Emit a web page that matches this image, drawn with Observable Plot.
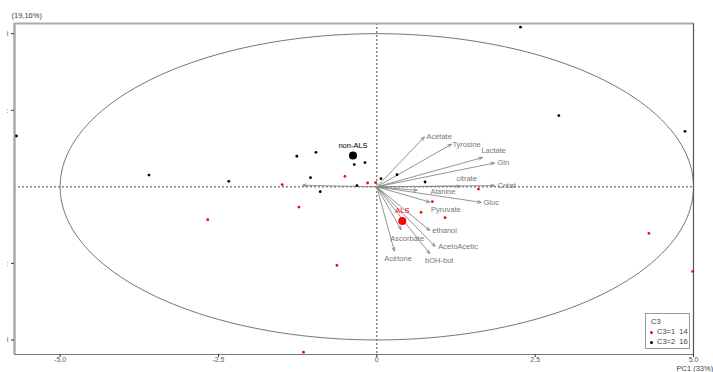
<!DOCTYPE html>
<html>
<head>
<meta charset="utf-8">
<script src="https://cdn.jsdelivr.net/npm/d3@7"></script>
<script src="https://cdn.jsdelivr.net/npm/@observablehq/plot@0.6"></script>
<style>
  body { margin: 0; background: #fff; }
  #wrap { position: relative; width: 713px; height: 372px; font-family: "Liberation Sans", Arial, sans-serif; }
  #legend { position: absolute; left: 645px; top: 313px; width: 43px; height: 34px; border: 1.5px solid #999; background: #fff; font-size: 7.5px; color: #444; line-height: 10px; }
  #legend .t { position: absolute; left: 5px; top: 3px; }
  #legend .r { position: absolute; left: 4px; white-space: pre; }
  #legend .d { display: inline-block; width: 3px; height: 3px; border-radius: 50%; margin-right: 4px; vertical-align: middle; }
</style>
</head>
<body>
<div id="wrap"></div>
<script>
// ---- data ----
const blackX = [-1.262, -0.961, -0.356, -0.187, -1.047, -0.893, -0.313, 0.066, 0.319, 0.762, -5.689, -3.597, -2.337, 2.269, 2.874, 4.866];
const blackY = [0.399, 0.451, 0.290, 0.316, 0.120, -0.063, 0.016, 0.107, 0.159, 0.063, 0.664, 0.154, 0.072, 2.085, 0.931, 0.725];
const redX = [-0.503, -1.494, -0.145, -0.019, -1.230, -0.629, 0.877, 0.699, 1.078, 1.605, -2.669, -1.157, 4.297, 4.988];
const redY = [0.137, 0.029, 0.050, 0.055, -0.264, -1.026, -0.193, -0.333, -0.403, -0.029, -0.429, -2.159, -0.608, -1.105];
const groupNames = ["non-ALS", "ALS"];
const groupX = [-0.376, 0.403];
const groupY = [0.408, -0.447];
const varNames = ["Acétate", "Tyrosine", "Lactate", "Gln", "citrate", "Créat", "Alanine", "Gluc", "Pyruvate", "ethanol", "AcetoAcetic", "bOH-but", "Ascorbate", "Acétone", ""];
const varX = [0.751, 1.178, 1.668, 1.858, 1.320, 1.858, 0.636, 1.647, 0.835, 0.835, 0.920, 0.835, 0.383, 0.277, -1.170];
const varY = [0.651, 0.556, 0.382, 0.311, 0.007, 0.016, -0.046, -0.203, -0.199, -0.569, -0.778, -0.873, -0.559, -0.839, 0.020];
const labelX = [0.783, 1.194, 1.652, 1.905, 1.257, 1.905, 0.846, 1.684, 0.857, 0.877, 0.972, 0.762, 0.213, 0.119, -1.170];
const labelY = [0.660, 0.556, 0.468, 0.311, 0.111, 0.020, -0.068, -0.203, -0.298, -0.569, -0.787, -0.961, -0.682, -0.939, 0.020];
const xTicks = [-5, -2.5, 0, 2.5, 5];
const xTickLabels = ["-5.0", "-2.5", "0", "2.5", "5.0"];
const yTicks = [2, 1, -1, -2];
const yTickLabels = ["i", ":", ":", "i"];
const ellipseRadii = [5, 2];
const xDomain = [-5.72, 5.0];
const yDomain = [-2.19, 2.133];
const title = "(19,16%)";
const xLabel = "PC1 (33%)";

// ---- derived tables ----
const black = blackX.map((x, i) => ({x, y: blackY[i]}));
const red = redX.map((x, i) => ({x, y: redY[i]}));
const vars = varNames.map((n, i) => ({n, x: varX[i], y: varY[i], lx: labelX[i], ly: labelY[i]}));
const ellipse = d3.range(0, 361, 2).map(a => ({x: ellipseRadii[0] * Math.cos(a * Math.PI / 180), y: ellipseRadii[1] * Math.sin(a * Math.PI / 180)}));

const chart = Plot.plot({
  width: 713, height: 372,
  marginLeft: 14, marginRight: 20, marginTop: 23, marginBottom: 18,
  x: {domain: xDomain},
  y: {domain: yDomain},
  style: {fontFamily: "Liberation Sans, Arial, sans-serif", fontSize: "7.5px", color: "#555", background: "#fff"},
  marks: [
    Plot.ruleY([0], {stroke: "#333", strokeWidth: 0.9, strokeDasharray: "2,2"}),
    Plot.ruleX([0], {stroke: "#333", strokeWidth: 0.9, strokeDasharray: "2,2"}),
    Plot.line(ellipse, {x: "x", y: "y", stroke: "#666", strokeWidth: 0.9, curve: "catmull-rom"}),
    Plot.ruleX([xDomain[0]], {stroke: "#aaa", strokeWidth: 2.5}),
    Plot.ruleY([yDomain[1]], {stroke: "#aaa", strokeWidth: 2}),
    Plot.ruleX([xDomain[1]], {stroke: "#555", strokeWidth: 1.2}),
    Plot.ruleY([yDomain[0]], {stroke: "#777", strokeWidth: 1.2}),
    Plot.axisX({ticks: xTicks, tickFormat: (d, i) => xTickLabels[i], tickSize: 3, tickPadding: 0, fontSize: 7, label: null, stroke: "#333"}),
    Plot.axisY({ticks: yTicks, tickFormat: (d, i) => yTickLabels[i], tickSize: 3, tickPadding: 3, label: null, stroke: "#333"}),
    Plot.arrow(vars, {x1: () => 0, y1: () => 0, x2: "x", y2: "y", stroke: "#888", strokeWidth: 0.9, headLength: 6, headAngle: 45}),
    Plot.text(vars, {x: "lx", y: "ly", text: "n", textAnchor: "start", fill: "#777", fontSize: 7.5}),
    Plot.dot(black, {x: "x", y: "y", r: 1.4, fill: "#000"}),
    Plot.dot(red, {x: "x", y: "y", r: 1.4, fill: "#f00"}),
    Plot.dot([0, 1], {x: i => groupX[i], y: i => groupY[i], r: 4, fill: i => (i === 0 ? "#000" : "#f00")}),
    Plot.text([0, 1], {x: i => groupX[i], y: i => groupY[i], text: i => groupNames[i], dy: -10, fill: i => (i === 0 ? "#000" : "#f00"), fontSize: 7.5}),
    Plot.text([title], {frameAnchor: "top-left", dx: -3, dy: -11, textAnchor: "start", fill: "#444", fontSize: 7.5}),
    Plot.text([xLabel], {frameAnchor: "bottom-right", dx: -17, dy: 16.5, textAnchor: "start", fill: "#444", fontSize: 7.5})
  ]
});
const wrap = document.getElementById("wrap");
wrap.appendChild(chart);
const lg = document.createElement("div");
lg.id = "legend";
lg.innerHTML = '<div class="t">C3</div>' +
  '<div class="r" style="top:13px"><span class="d" style="background:#f00"></span>C3=1  14</div>' +
  '<div class="r" style="top:23px"><span class="d" style="background:#000"></span>C3=2  16</div>';
wrap.appendChild(lg);
</script>
</body>
</html>
